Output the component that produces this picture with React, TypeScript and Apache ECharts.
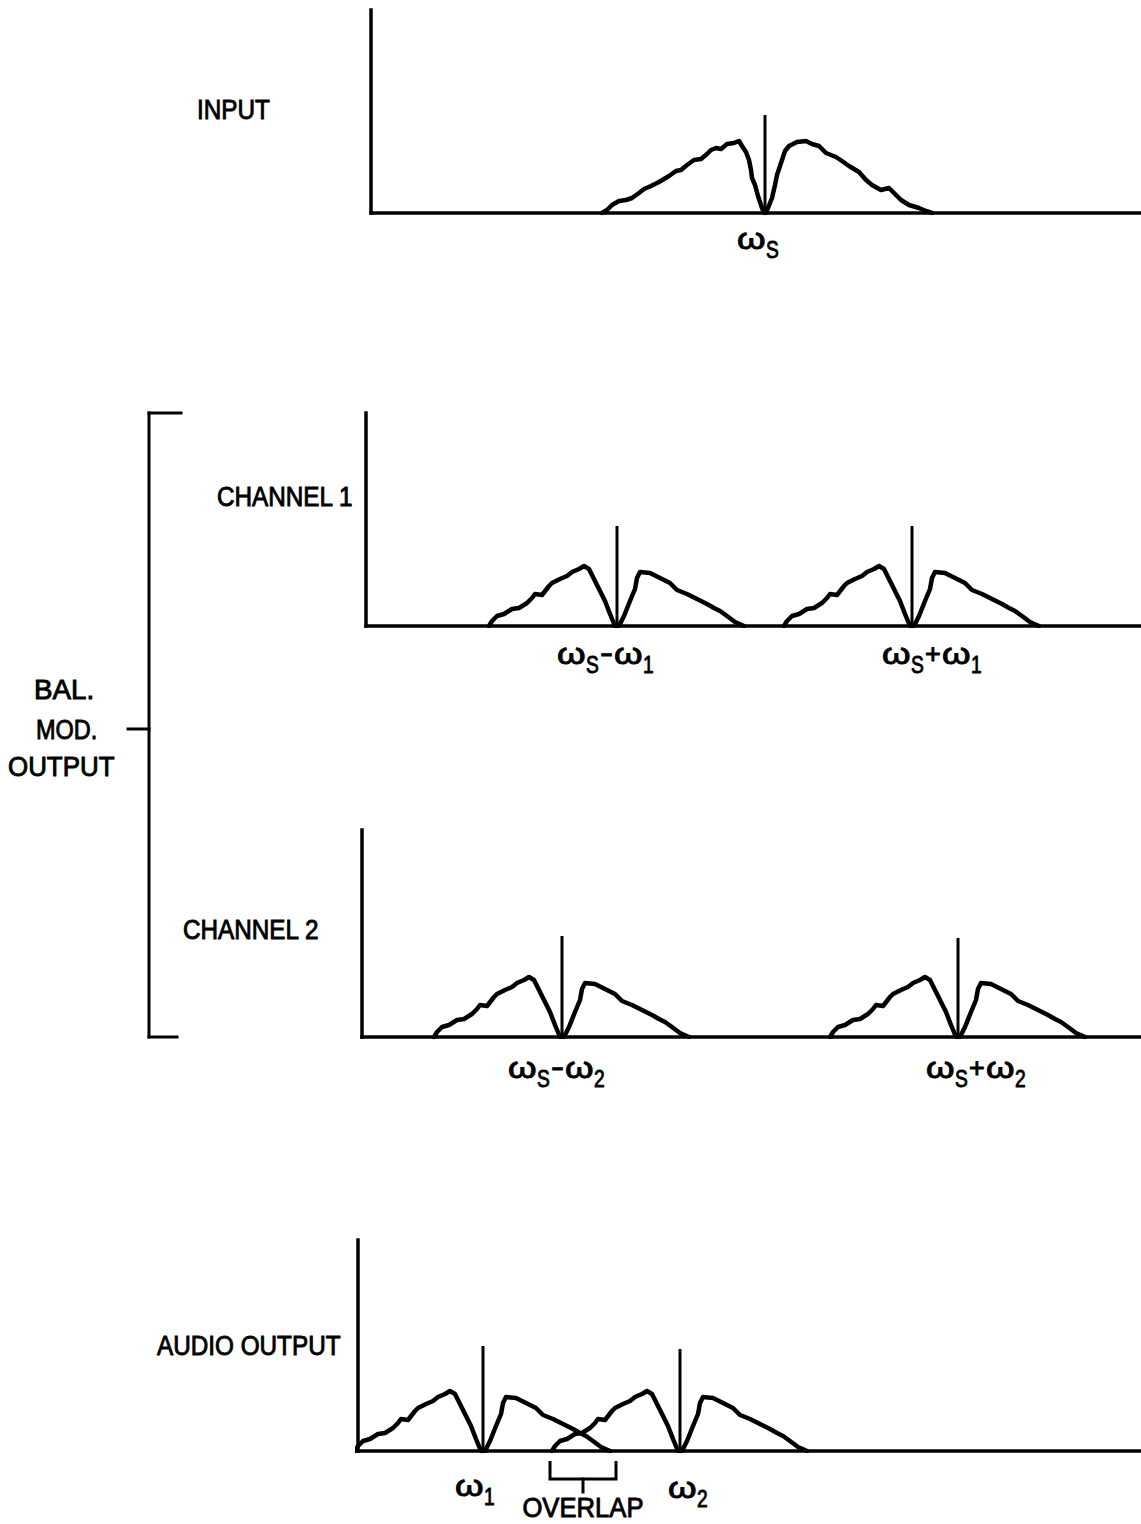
import React, { useEffect, useRef } from "react";
import * as echarts from "echarts";

// ---------------- DATA ----------------
// Input spectrum (around carrier ωs): offset from carrier and amplitude
const INPUT_SHAPE_OFFSET = [
  -163, -158, -153, -146, -139, -133, -126, -121, -114, -106, -96, -89, -84, -78, -71, -64,
  -58, -54, -49, -44, -38, -31, -26, -23, -19, -16, -14, -13, -10, -7, -3, -1,
  1, 3, 7, 10, 12, 16, 20, 24, 32, 41, 47, 54, 61, 71, 77, 84, 94, 101, 107, 116, 124, 129,
  136, 144, 154, 161, 167,
];
const INPUT_SHAPE_LEVEL = [
  0, 3, 8, 12, 13, 15, 20, 24, 27, 31, 37, 42, 43, 48, 53, 54,
  59, 63, 65, 64, 69, 70, 72, 67, 61, 53, 43, 35, 28, 17, 5, 0,
  0, 5, 15, 28, 38, 50, 62, 67, 71, 72, 69, 67, 60, 56, 52, 47, 41, 33, 28, 23, 25, 20,
  13, 8, 5, 2, 0,
];
// Modulated sideband spectrum: offset from carrier and amplitude
const SIDEBAND_SHAPE_OFFSET = [
  -128, -125, -120, -113, -105, -98, -90, -85, -82, -75, -68, -65, -57, -50, -45, -38, -33,
  -28, -22, -17, -12, -7, -2,
  2, 7, 13, 18, 20, 23, 33, 43, 53, 60, 70, 80, 90, 97, 103, 110, 118, 127,
];
const SIDEBAND_SHAPE_LEVEL = [
  0, 5, 10, 12, 17, 18, 23, 28, 32, 31, 40, 43, 47, 50, 54, 57, 60,
  57, 45, 35, 25, 12, 0,
  0, 10, 25, 37, 48, 54, 53, 48, 43, 36, 32, 27, 22, 18, 15, 10, 4, 0,
];

const PANEL_TITLES = ["INPUT", "CHANNEL 1", "CHANNEL 2", "AUDIO OUTPUT"];
const GROUP_TITLE = ["BAL.", "MOD.", "OUTPUT"];
const OVERLAP_LABEL = "OVERLAP";

const INPUT_CARRIERS = [394];
const CH1_CARRIERS = [251, 546];
const CH2_CARRIERS = [200, 596];
const AUDIO_CARRIERS = [125, 322];

const INPUT_IMPULSE = [98];
const CH1_IMPULSE = [100, 100];
const CH2_IMPULSE = [101, 99];
const AUDIO_IMPULSE = [105, 102];

const INPUT_LABELS = ["ω_S"];
const CH1_LABELS = ["ω_S-ω_1", "ω_S+ω_1"];
const CH2_LABELS = ["ω_S-ω_2", "ω_S+ω_2"];
const AUDIO_LABELS = ["ω_1", "ω_2"];

// ---------------- LAYOUT ----------------
const PAGE_W = 1141;
const PAGE_H = 1524;
const FONT = '"Liberation Sans", Arial, sans-serif';
const INK = "#000";

const PANELS = [
  { left: 371, top: 10, bottom: 213, shape: "input", carriers: INPUT_CARRIERS, impulse: INPUT_IMPULSE, labels: INPUT_LABELS, labelDx: [-28], labelY: [239], title: { x: 197, y: 110 } },
  { left: 366, top: 413, bottom: 626, shape: "side", carriers: CH1_CARRIERS, impulse: CH1_IMPULSE, labels: CH1_LABELS, labelDx: [-60, -30], labelY: [654, 654], title: { x: 217, y: 497 } },
  { left: 362, top: 830, bottom: 1037, shape: "side", carriers: CH2_CARRIERS, impulse: CH2_IMPULSE, labels: CH2_LABELS, labelDx: [-54, -32], labelY: [1068, 1068], title: { x: 183, y: 930 } },
  { left: 358, top: 1240, bottom: 1451, shape: "side", carriers: AUDIO_CARRIERS, impulse: AUDIO_IMPULSE, labels: AUDIO_LABELS, labelDx: [-28, -12], labelY: [1486, 1488], title: { x: 157, y: 1346 } },
];

const TOKEN = {
  main: { size: 30, scaleX: 1.22, adv: 29, dy: 0 },
  sub: { size: 24, scaleX: 0.8, adv: 14, dy: 11 },
  "-": { size: 30, scaleX: 1.3, adv: 14, dy: -1 },
  "+": { size: 27, scaleX: 1, adv: 17, dy: 0 },
};

function parseLabel(s: string) {
  const out: { t: string; kind: string }[] = [];
  for (let i = 0; i < s.length; i++) {
    const c = s[i];
    if (c === "_") {
      out.push({ t: s[i + 1], kind: "sub" });
      i++;
    } else if (c === "-" || c === "+") {
      out.push({ t: c, kind: c });
    } else {
      out.push({ t: c, kind: "main" });
    }
  }
  return out;
}

function textEl(text: string, x: number, y: number, size: number, scaleX = 1, align = "left") {
  return {
    type: "text",
    x,
    y,
    scaleX,
    silent: true,
    style: {
      text,
      x: 0,
      y: 0,
      fill: INK,
      stroke: INK,
      lineWidth: 0.9,
      fontSize: size,
      fontFamily: FONT,
      textAlign: align,
      textVerticalAlign: "middle",
      align,
      verticalAlign: "middle",
    },
  };
}

function lineEl(x1: number, y1: number, x2: number, y2: number, w = 3) {
  return {
    type: "line",
    silent: true,
    shape: { x1, y1, x2, y2 },
    style: { stroke: INK, lineWidth: w, lineCap: "square" },
  };
}

export default function App() {
  const ref = useRef<HTMLDivElement>(null);

  useEffect(() => {
    const el = ref.current;
    if (!el) return;
    const chart = echarts.init(el, null, { renderer: "svg" });

    const grid: any[] = [];
    const xAxis: any[] = [];
    const yAxis: any[] = [];
    const series: any[] = [];
    const axisLine = { show: true, onZero: false, lineStyle: { color: INK, width: 3.5, cap: "square" } };

    PANELS.forEach((p, i) => {
      const width = PAGE_W - p.left;
      const height = p.bottom - p.top;
      grid.push({ left: p.left, top: p.top, width, height, outerBoundsMode: "none", containLabel: false });
      xAxis.push({
        type: "value", gridIndex: i, min: 0, max: width,
        axisLine, axisTick: { show: false }, axisLabel: { show: false }, splitLine: { show: false },
      });
      yAxis.push({
        type: "value", gridIndex: i, min: 0, max: height,
        axisLine, axisTick: { show: false }, axisLabel: { show: false }, splitLine: { show: false },
      });
      const offs = p.shape === "input" ? INPUT_SHAPE_OFFSET : SIDEBAND_SHAPE_OFFSET;
      const lvls = p.shape === "input" ? INPUT_SHAPE_LEVEL : SIDEBAND_SHAPE_LEVEL;
      p.carriers.forEach((c, k) => {
        series.push({
          type: "line",
          xAxisIndex: i,
          yAxisIndex: i,
          showSymbol: false,
          symbol: "none",
          silent: true,
          clip: true,
          data: offs.map((o, j) => [c + o, lvls[j]]),
          lineStyle: { color: INK, width: 4.5, cap: "round", join: "round" },
          z: 3,
        });
        series.push({
          type: "line",
          xAxisIndex: i,
          yAxisIndex: i,
          showSymbol: false,
          symbol: "none",
          silent: true,
          data: [[c, 0], [c, p.impulse[k]]],
          lineStyle: { color: INK, width: 3, cap: "butt" },
          z: 4,
        });
      });
    });

    chart.setOption({
      animation: false,
      backgroundColor: "#fff",
      grid,
      xAxis,
      yAxis,
      series,
    });

    // ---- text labels and brackets ----
    const graphics: any[] = [];
    PANELS.forEach((p, i) => {
      graphics.push(textEl(PANEL_TITLES[i], p.title.x, p.title.y, 27, 0.9));
      p.carriers.forEach((c, k) => {
        const pt = chart.convertToPixel({ xAxisIndex: i, yAxisIndex: i }, [c, 0]) as number[];
        let x = pt[0] + p.labelDx[k];
        const y = p.labelY[k];
        parseLabel(p.labels[k]).forEach((tok) => {
          const spec = (TOKEN as any)[tok.kind];
          graphics.push(textEl(tok.t, x, y + spec.dy, spec.size, spec.scaleX));
          x += spec.adv;
        });
      });
    });

    // BAL. MOD. OUTPUT group bracket
    graphics.push(textEl(GROUP_TITLE[0], 34, 690, 27, 1.03));
    graphics.push(textEl(GROUP_TITLE[1], 36, 729, 27, 0.87));
    graphics.push(textEl(GROUP_TITLE[2], 8, 767, 27, 0.96));
    graphics.push(lineEl(149, 413, 149, 1037));
    graphics.push(lineEl(149, 413, 181, 413));
    graphics.push(lineEl(149, 1037, 177, 1037));
    graphics.push(lineEl(128, 729, 149, 729));

    // OVERLAP bracket: from start of upper group to end of lower group (audio panel)
    const a = 3;
    const lo = chart.convertToPixel({ xAxisIndex: a, yAxisIndex: a }, [AUDIO_CARRIERS[1] + SIDEBAND_SHAPE_OFFSET[0], 0]) as number[];
    const hi = chart.convertToPixel({ xAxisIndex: a, yAxisIndex: a }, [AUDIO_CARRIERS[0] + SIDEBAND_SHAPE_OFFSET[SIDEBAND_SHAPE_OFFSET.length - 1], 0]) as number[];
    const x0 = lo[0] - 2;
    const x1 = hi[0] + 6;
    const bTop = lo[1] + 10;
    const bBot = lo[1] + 28;
    const mid = (x0 + x1) / 2;
    graphics.push({
      type: "polyline",
      silent: true,
      shape: { points: [[x0, bTop], [x0, bBot], [x1, bBot], [x1, bTop]] },
      style: { stroke: INK, lineWidth: 3, fill: null },
    });
    graphics.push(lineEl(mid, bBot, mid, bBot + 13));
    graphics.push(textEl(OVERLAP_LABEL, mid, 1508, 27, 0.95, "center"));

    chart.setOption({ graphic: graphics });

    return () => {
      chart.dispose();
    };
  }, []);

  return (
    <div
      ref={ref}
      style={{ position: "absolute", left: 0, top: 0, width: PAGE_W, height: PAGE_H, background: "#fff" }}
    />
  );
}
